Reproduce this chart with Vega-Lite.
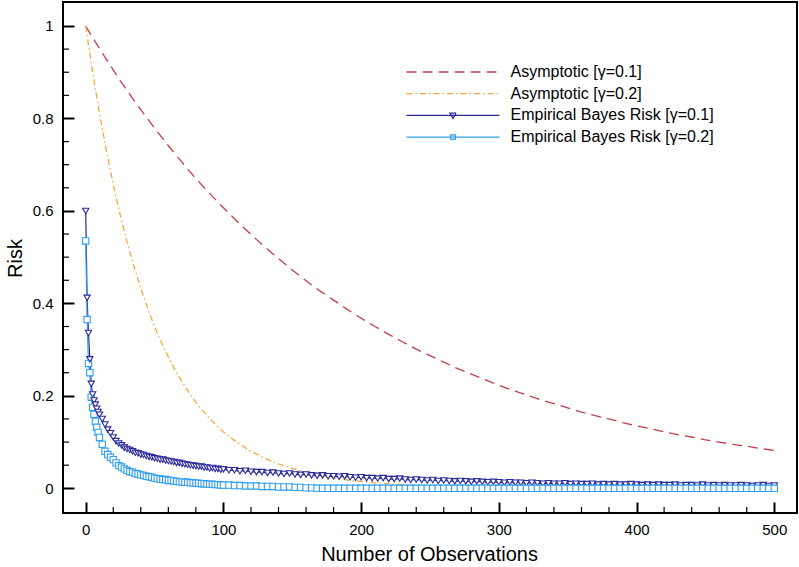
{
"$schema":"https://vega.github.io/schema/vega-lite/v6.json",
"width":734,"height":511,
"autosize":{"type":"none"},
"padding":{"left":63,"top":2,"right":2,"bottom":54},
"background":"white",
"config":{
 "view":{"stroke":"black","strokeWidth":2},
 "font":"Liberation Sans",
 "axis":{"labelFont":"Liberation Sans","titleFont":"Liberation Sans","labelColor":"black","titleColor":"black","grid":false,"domain":false,"tickColor":"black","titleFontWeight":"normal"}
},
"datasets":{
"xt":[{"t":20},{"t":40},{"t":60},{"t":80},{"t":120},{"t":140},{"t":160},{"t":180},{"t":220},{"t":240},{"t":260},{"t":280},{"t":320},{"t":340},{"t":360},{"t":380},{"t":420},{"t":440},{"t":460},{"t":480}],
"yt":[{"v":0.05},{"v":0.1},{"v":0.15},{"v":0.25},{"v":0.3},{"v":0.35},{"v":0.45},{"v":0.5},{"v":0.55},{"v":0.65},{"v":0.7},{"v":0.75},{"v":0.85},{"v":0.9},{"v":0.95}],
"asym":[
{"n":0,"a1":1.000,"a2":1.000},{"n":5,"a1":0.975,"a2":0.900},{"n":10,"a1":0.951,"a2":0.811},{"n":15,"a1":0.928,"a2":0.730},{"n":20,"a1":0.905,"a2":0.657},{"n":25,"a1":0.882,"a2":0.592},{"n":30,"a1":0.861,"a2":0.533},{"n":35,"a1":0.839,"a2":0.480},{"n":40,"a1":0.819,"a2":0.432},{"n":45,"a1":0.799,"a2":0.389},{"n":50,"a1":0.779,"a2":0.350},{"n":55,"a1":0.760,"a2":0.315},{"n":60,"a1":0.741,"a2":0.284},{"n":65,"a1":0.723,"a2":0.255},{"n":70,"a1":0.705,"a2":0.230},{"n":75,"a1":0.687,"a2":0.207},{"n":80,"a1":0.670,"a2":0.186},{"n":85,"a1":0.654,"a2":0.168},{"n":90,"a1":0.638,"a2":0.151},{"n":95,"a1":0.622,"a2":0.136},{"n":100,"a1":0.607,"a2":0.122},
{"n":110,"a1":0.577,"a2":0.099},{"n":120,"a1":0.549,"a2":0.080},{"n":130,"a1":0.522,"a2":0.065},{"n":140,"a1":0.497,"a2":0.053},{"n":150,"a1":0.472,"a2":0.043},{"n":160,"a1":0.449,"a2":0.035},{"n":170,"a1":0.427,"a2":0.028},{"n":180,"a1":0.407,"a2":0.023},{"n":190,"a1":0.387,"a2":0.018},{"n":200,"a1":0.368,"a2":0.015},
{"n":210,"a1":0.350,"a2":0.012},{"n":220,"a1":0.333,"a2":0.010},{"n":230,"a1":0.317,"a2":0.008},{"n":240,"a1":0.301,"a2":0.006},{"n":250,"a1":0.287,"a2":0.005},{"n":260,"a1":0.273,"a2":0.004},{"n":270,"a1":0.259,"a2":0.003},{"n":280,"a1":0.247,"a2":0.003},{"n":290,"a1":0.235,"a2":0.002},{"n":300,"a1":0.223,"a2":0.002},
{"n":310,"a1":0.212,"a2":0.002},{"n":320,"a1":0.202,"a2":0.001},{"n":330,"a1":0.192,"a2":0.001},{"n":340,"a1":0.183,"a2":0.001},{"n":350,"a1":0.174,"a2":0.001},{"n":360,"a1":0.165,"a2":0.001},{"n":370,"a1":0.157,"a2":0.000},{"n":380,"a1":0.150,"a2":0.000},{"n":390,"a1":0.142,"a2":0.000},{"n":400,"a1":0.135,"a2":0.000},
{"n":410,"a1":0.129,"a2":0.000},{"n":420,"a1":0.122,"a2":0.000},{"n":430,"a1":0.116,"a2":0.000},{"n":440,"a1":0.111,"a2":0.000},{"n":450,"a1":0.105,"a2":0.000},{"n":460,"a1":0.100,"a2":0.000},{"n":470,"a1":0.095,"a2":0.000},{"n":480,"a1":0.091,"a2":0.000},{"n":490,"a1":0.086,"a2":0.000},{"n":500,"a1":0.082,"a2":0.000}
],
"emp":[
{"n":0,"e1":0.600,"e2":0.535},{"n":1,"e1":0.412,"e2":0.365},{"n":2,"e1":0.336,"e2":0.270},{"n":3,"e1":0.279,"e2":0.250},{"n":4,"e1":0.226,"e2":0.197},{"n":5,"e1":0.203,"e2":0.175},{"n":6,"e1":0.190,"e2":0.160},{"n":7,"e1":0.181,"e2":0.145},{"n":8,"e1":0.172,"e2":0.132},{"n":9,"e1":0.165,"e2":0.121},{"n":10,"e1":0.159,"e2":0.110},
{"n":12,"e1":0.150,"e2":0.095},{"n":14,"e1":0.138,"e2":0.080},{"n":16,"e1":0.127,"e2":0.073},{"n":18,"e1":0.119,"e2":0.067},{"n":20,"e1":0.110,"e2":0.062},{"n":22,"e1":0.102,"e2":0.055},{"n":24,"e1":0.097,"e2":0.049},{"n":26,"e1":0.093,"e2":0.046},{"n":28,"e1":0.088,"e2":0.042},{"n":30,"e1":0.085,"e2":0.039},
{"n":32,"e1":0.083,"e2":0.036},{"n":34,"e1":0.080,"e2":0.035},{"n":36,"e1":0.077,"e2":0.032},{"n":38,"e1":0.076,"e2":0.031},{"n":40,"e1":0.073,"e2":0.029},{"n":42,"e1":0.072,"e2":0.028},{"n":44,"e1":0.070,"e2":0.026},{"n":46,"e1":0.068,"e2":0.025},{"n":48,"e1":0.067,"e2":0.024},{"n":50,"e1":0.065,"e2":0.022},
{"n":52,"e1":0.064,"e2":0.021},{"n":54,"e1":0.062,"e2":0.020},{"n":56,"e1":0.062,"e2":0.019},{"n":58,"e1":0.060,"e2":0.019},{"n":60,"e1":0.059,"e2":0.017},{"n":62,"e1":0.058,"e2":0.017},{"n":64,"e1":0.057,"e2":0.016},{"n":66,"e1":0.055,"e2":0.015},{"n":68,"e1":0.055,"e2":0.014},{"n":70,"e1":0.053,"e2":0.014},
{"n":72,"e1":0.052,"e2":0.013},{"n":74,"e1":0.051,"e2":0.013},{"n":76,"e1":0.050,"e2":0.012},{"n":78,"e1":0.049,"e2":0.012},{"n":80,"e1":0.048,"e2":0.011},{"n":82,"e1":0.047,"e2":0.011},{"n":84,"e1":0.047,"e2":0.010},{"n":86,"e1":0.045,"e2":0.010},{"n":88,"e1":0.045,"e2":0.009},{"n":90,"e1":0.043,"e2":0.009},
{"n":92,"e1":0.044,"e2":0.009},{"n":94,"e1":0.042,"e2":0.008},{"n":96,"e1":0.042,"e2":0.008},{"n":98,"e1":0.040,"e2":0.007},{"n":100,"e1":0.041,"e2":0.007},
{"n":104,"e1":0.039,"e2":0.007},{"n":108,"e1":0.039,"e2":0.006},{"n":112,"e1":0.037,"e2":0.006},{"n":116,"e1":0.038,"e2":0.005},{"n":120,"e1":0.036,"e2":0.005},{"n":124,"e1":0.035,"e2":0.005},{"n":128,"e1":0.035,"e2":0.004},{"n":132,"e1":0.033,"e2":0.004},{"n":136,"e1":0.034,"e2":0.004},{"n":140,"e1":0.032,"e2":0.003},
{"n":144,"e1":0.031,"e2":0.003},{"n":148,"e1":0.032,"e2":0.003},{"n":152,"e1":0.030,"e2":0.002},{"n":156,"e1":0.029,"e2":0.002},{"n":160,"e1":0.030,"e2":0.001},{"n":164,"e1":0.028,"e2":0.001},{"n":168,"e1":0.027,"e2":0.000},{"n":172,"e1":0.028,"e2":0.000},{"n":176,"e1":0.026,"e2":0.000},{"n":180,"e1":0.026,"e2":0.000},
{"n":184,"e1":0.025,"e2":0.000},{"n":188,"e1":0.026,"e2":0.000},{"n":192,"e1":0.024,"e2":0.000},{"n":196,"e1":0.023,"e2":0.000},{"n":200,"e1":0.024,"e2":0.000},{"n":204,"e1":0.022,"e2":0.000},{"n":208,"e1":0.022,"e2":0.000},{"n":212,"e1":0.021,"e2":0.000},{"n":216,"e1":0.022,"e2":0.000},{"n":220,"e1":0.020,"e2":0.000},
{"n":224,"e1":0.020,"e2":0.000},{"n":228,"e1":0.021,"e2":0.000},{"n":232,"e1":0.019,"e2":0.000},{"n":236,"e1":0.018,"e2":0.000},{"n":240,"e1":0.019,"e2":0.000},{"n":244,"e1":0.018,"e2":0.000},{"n":248,"e1":0.017,"e2":0.000},{"n":252,"e1":0.018,"e2":0.000},{"n":256,"e1":0.016,"e2":0.000},{"n":260,"e1":0.017,"e2":0.000},
{"n":264,"e1":0.016,"e2":0.000},{"n":268,"e1":0.015,"e2":0.000},{"n":272,"e1":0.016,"e2":0.000},{"n":276,"e1":0.015,"e2":0.000},{"n":280,"e1":0.014,"e2":0.000},{"n":284,"e1":0.015,"e2":0.000},{"n":288,"e1":0.014,"e2":0.000},{"n":292,"e1":0.013,"e2":0.000},{"n":296,"e1":0.014,"e2":0.000},{"n":300,"e1":0.013,"e2":0.000},
{"n":304,"e1":0.012,"e2":0.000},{"n":308,"e1":0.013,"e2":0.000},{"n":312,"e1":0.012,"e2":0.000},{"n":316,"e1":0.012,"e2":0.000},{"n":320,"e1":0.011,"e2":0.000},{"n":324,"e1":0.012,"e2":0.000},{"n":328,"e1":0.011,"e2":0.000},{"n":332,"e1":0.010,"e2":0.000},{"n":336,"e1":0.011,"e2":0.000},{"n":340,"e1":0.010,"e2":0.000},
{"n":344,"e1":0.010,"e2":0.000},{"n":348,"e1":0.011,"e2":0.000},{"n":352,"e1":0.009,"e2":0.000},{"n":356,"e1":0.010,"e2":0.000},{"n":360,"e1":0.009,"e2":0.000},{"n":364,"e1":0.009,"e2":0.000},{"n":368,"e1":0.010,"e2":0.000},{"n":372,"e1":0.008,"e2":0.000},{"n":376,"e1":0.009,"e2":0.000},{"n":380,"e1":0.008,"e2":0.000},
{"n":384,"e1":0.009,"e2":0.000},{"n":388,"e1":0.008,"e2":0.000},{"n":392,"e1":0.008,"e2":0.000},{"n":396,"e1":0.009,"e2":0.000},{"n":400,"e1":0.008,"e2":0.000},{"n":404,"e1":0.007,"e2":0.000},{"n":408,"e1":0.008,"e2":0.000},{"n":412,"e1":0.007,"e2":0.000},{"n":416,"e1":0.008,"e2":0.000},{"n":420,"e1":0.007,"e2":0.000},
{"n":424,"e1":0.007,"e2":0.000},{"n":428,"e1":0.008,"e2":0.000},{"n":432,"e1":0.006,"e2":0.000},{"n":436,"e1":0.007,"e2":0.000},{"n":440,"e1":0.007,"e2":0.000},{"n":444,"e1":0.006,"e2":0.000},{"n":448,"e1":0.008,"e2":0.000},{"n":452,"e1":0.006,"e2":0.000},{"n":456,"e1":0.007,"e2":0.000},{"n":460,"e1":0.006,"e2":0.000},
{"n":464,"e1":0.007,"e2":0.000},{"n":468,"e1":0.006,"e2":0.000},{"n":472,"e1":0.006,"e2":0.000},{"n":476,"e1":0.007,"e2":0.000},{"n":480,"e1":0.006,"e2":0.000},{"n":484,"e1":0.005,"e2":0.000},{"n":488,"e1":0.006,"e2":0.000},{"n":492,"e1":0.007,"e2":0.000},{"n":496,"e1":0.005,"e2":0.000},{"n":500,"e1":0.006,"e2":0.000}
]
},
"layer":[
{
 "data":{"name":"asym"},
 "transform":[{"fold":["a1","a2"],"as":["s","r"]}],
 "mark":{"type":"line","strokeWidth":1.3,"clip":true},
 "encoding":{
  "x":{"field":"n","type":"quantitative","scale":{"domain":[-16.5,516.5],"nice":false,"zero":false},
       "axis":{"orient":"bottom","values":[0,100,200,300,400,500],"format":"d","ticks":true,"tickSize":-11,"tickWidth":2,"labelPadding":20,"labelFontSize":15,"title":"Number of Observations","titleFontSize":20,"titleX":366,"titleY":47,"titleBaseline":"alphabetic","titleAlign":"center"}},
  "y":{"field":"r","type":"quantitative","scale":{"domain":[-0.0534,1.0519],"nice":false,"zero":false},
       "axis":{"orient":"left","values":[0,0.2,0.4,0.6,0.8,1],"format":"~g","ticks":true,"tickSize":-11,"tickWidth":2,"labelPadding":21,"labelFontSize":15,"title":"Risk","titleFontSize":20,"titleAngle":-90,"titleX":-42,"titleY":256,"titleBaseline":"alphabetic","titleAlign":"center"}},
  "color":{"field":"s","type":"nominal","scale":{"domain":["a1","a2","e1","e2"],"range":["#c0404c","#f6a640","#2a2a9c","#2e9ef2"]},
       "legend":{"title":null,"orient":"none","legendX":379,"legendY":59,"symbolSize":400,"symbolStrokeWidth":1.3,"labelOffset":46.5,"labelFontSize":16,"labelFont":"Liberation Sans","labelColor":"black","labelLimit":400,"rowPadding":2.7,"padding":0,
         "labelExpr":"datum.value=='a1'?'Asymptotic [γ=0.1]':datum.value=='a2'?'Asymptotic [γ=0.2]':datum.value=='e1'?'Empirical Bayes Risk [γ=0.1]':'Empirical Bayes Risk [γ=0.2]'",
         "encode":{"symbols":{"update":{"shape":{"signal":"datum.value=='e1'?'M-4.65,0H4.65M-0.3,-0.22L0.3,-0.22L0,0.3Z':datum.value=='e2'?'M-4.65,0H4.65M-0.23,-0.23H0.23V0.23H-0.23Z':'M-4.65,0H4.65'"},"fill":{"value":"white"}}}}}},
  "strokeDash":{"field":"s","type":"nominal","scale":{"domain":["a1","a2","e1","e2"],"range":[[10,6],[6,3,1.5,3],[1,0],[1,0]]},
       "legend":{"title":null,"orient":"none","legendX":379,"legendY":59,"symbolSize":400,"symbolStrokeWidth":1.3,"labelOffset":46.5,"labelFontSize":16,"labelFont":"Liberation Sans","labelColor":"black","labelLimit":400,"rowPadding":2.7,"padding":0,
         "labelExpr":"datum.value=='a1'?'Asymptotic [γ=0.1]':datum.value=='a2'?'Asymptotic [γ=0.2]':datum.value=='e1'?'Empirical Bayes Risk [γ=0.1]':'Empirical Bayes Risk [γ=0.2]'",
         "encode":{"symbols":{"update":{"shape":{"signal":"datum.value=='e1'?'M-4.65,0H4.65M-0.3,-0.22L0.3,-0.22L0,0.3Z':datum.value=='e2'?'M-4.65,0H4.65M-0.23,-0.23H0.23V0.23H-0.23Z':'M-4.65,0H4.65'"},"fill":{"value":"white"}}}}}}
 }
},
{
 "data":{"name":"xt"},
 "mark":{"type":"rule","color":"black","strokeWidth":1.2},
 "encoding":{
  "x":{"field":"t","type":"quantitative"},
  "y":{"datum":-0.0534,"type":"quantitative"},
  "y2":{"datum":-0.0404}
 }
},
{
 "data":{"name":"yt"},
 "mark":{"type":"rule","color":"black","strokeWidth":1.2},
 "encoding":{
  "y":{"field":"v","type":"quantitative"},
  "x":{"datum":-16.5,"type":"quantitative"},
  "x2":{"datum":-12.14}
 }
},
{
 "data":{"name":"emp"},
 "transform":[{"fold":["e1","e2"],"as":["s","r"]}],
 "mark":{"type":"line","strokeWidth":1.2,"clip":true},
 "encoding":{
  "x":{"field":"n","type":"quantitative"},
  "y":{"field":"r","type":"quantitative"},
  "color":{"field":"s","type":"nominal"},
  "strokeDash":{"field":"s","type":"nominal"}
 }
},
{
 "data":{"name":"emp"},
 "transform":[{"fold":["e1","e2"],"as":["s","r"]}],
 "mark":{"type":"point","filled":false,"fill":"white","size":40,"strokeWidth":1.1,"opacity":1,"clip":true},
 "encoding":{
  "x":{"field":"n","type":"quantitative"},
  "y":{"field":"r","type":"quantitative"},
  "color":{"field":"s","type":"nominal"},
  "shape":{"field":"s","type":"nominal","scale":{"domain":["e1","e2"],"range":["triangle-down","square"]},"legend":null}
 }
}
]
}
